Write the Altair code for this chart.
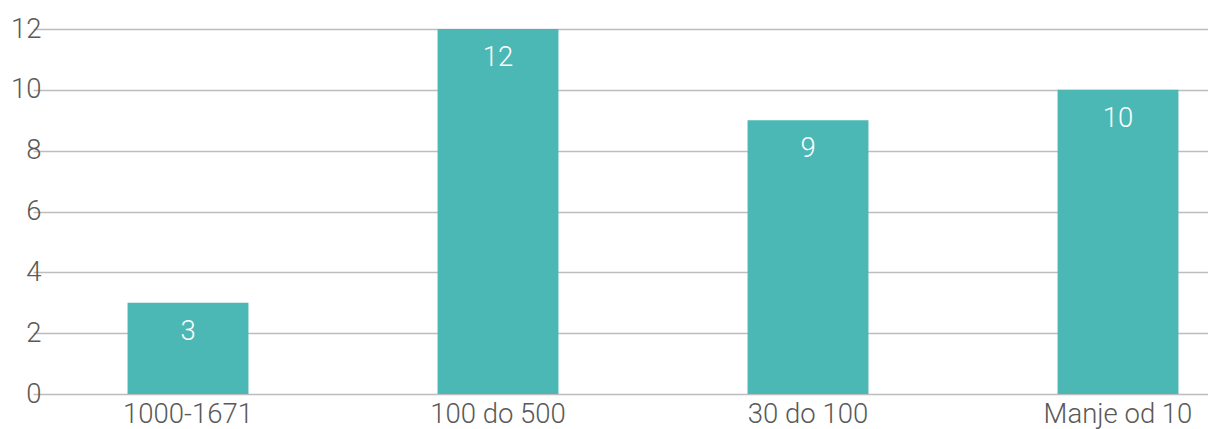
import altair as alt
import pandas as pd

categories = ["1000-1671", "100 do 500", "30 do 100", "Manje od 10"]
values = [3, 12, 9, 10]

df = pd.DataFrame({"cat": categories, "val": values})

FONT = "Roboto"

x = alt.X("cat:N", sort=categories, title=None,
          scale=alt.Scale(range=[-22, 1218], paddingInner=0.61, paddingOuter=0.305),
          axis=alt.Axis(labelAngle=0, labelFont=FONT, labelFontSize=27.5, labelFontWeight=300,
                        labelColor="#595959",
                        ticks=False, domain=False, labelPadding=6, grid=False))
y = alt.Y("val:Q", title=None,
          scale=alt.Scale(domain=[0, 12], nice=False),
          axis=alt.Axis(values=[0, 2, 4, 6, 8, 10, 12], labelFont=FONT, labelFontSize=27.5,
                        labelFontWeight=300,
                        labelColor="#595959", ticks=False, domain=False, labelPadding=14,
                        gridColor="#bdbdbd", gridWidth=1.3))

bars = alt.Chart(df).mark_bar(color="#4cb8b5").encode(x=x, y=y)
labels = alt.Chart(df).mark_text(color="white", font=FONT, fontSize=27.5, fontWeight=300,
                                 baseline="middle", dy=29).encode(
    x=alt.X("cat:N", sort=categories), y="val:Q", text="val:Q")

chart = (bars + labels).properties(
    width=1153, height=365,
    autosize=alt.AutoSizeParams(type="none"),
    padding={"left": 55, "top": 29, "right": 0, "bottom": 35},
).configure_view(stroke=None)

chart.save("out.html", embed_options={"renderer": "svg", "actions": False})
